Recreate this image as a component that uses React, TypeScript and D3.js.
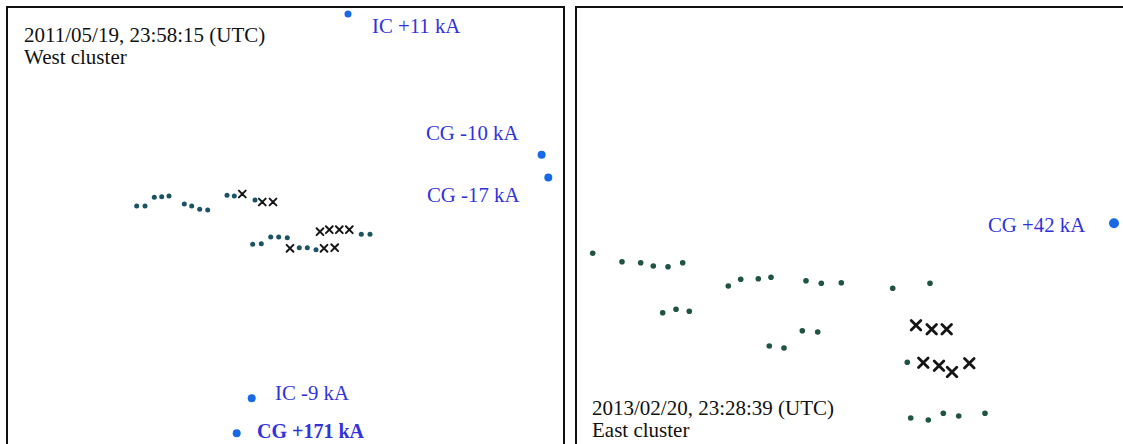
import * as d3 from 'd3';

// panel-relative positions (px in the original figure), y measured from panel top
type Pt = [number, number];
type Stroke = { label: string, dot: Pt, text: Pt, r: number, bold?: boolean };

const westSources: Pt[] = [
    [129.7, 199], [138, 199], [147.3, 190.3], [154.7, 189.7], [162, 189],
    [177.3, 197], [184.7, 199], [192.7, 202.3], [200.7, 203],
    [220, 188.3], [227.3, 189], [248, 193],
    [245.7, 237.3], [254.3, 236.7], [263.7, 230], [271.7, 230], [280.3, 230.7],
    [292.3, 240.7], [300.3, 240.7], [309, 242.7],
    [354.3, 227.3], [363, 227.3]
];
const westCrosses: Pt[] = [
    [235.3, 187], [255.3, 195], [266, 195],
    [283, 241.3], [317, 241.3], [327.7, 240.7],
    [313, 224.7], [322.3, 222.7], [332.3, 222.7], [342.3, 222.7]
];
const westStrokes: Stroke[] = [
    { label: 'IC +11 kA', dot: [341, 7], text: [365, 26], r: 3.5 },
    { label: 'CG -10 kA', dot: [534.6, 147.8], text: [419, 133], r: 4 },
    { label: 'CG -17 kA', dot: [541.3, 170.4], text: [420, 194.5], r: 4 },
    { label: 'IC -9 kA', dot: [244.7, 391.3], text: [268, 393], r: 4 },
    { label: 'CG +171 kA', dot: [229.7, 426.3], text: [250, 431], r: 4, bold: true }
];
const westTitle = ['2011/05/19, 23:58:15 (UTC)', 'West cluster'];

const eastSources: Pt[] = [
    [16.7, 246.3], [46, 254.7], [64.7, 255.7], [77.3, 259], [92, 259.7], [106.7, 255.7],
    [86.7, 305.7], [100, 302.3], [113.3, 304.3],
    [152.3, 279], [164.7, 272.3], [182.3, 271.7], [195, 270.3],
    [230, 273.7], [245.3, 276.3], [265.3, 275.7],
    [226.3, 323.7], [241.7, 325], [193.3, 339], [208, 341],
    [316.7, 281.3], [354, 276.3], [331.3, 355.3],
    [334.7, 411], [352.3, 413], [367.3, 406.3], [382.7, 409], [409, 406.3]
];
const eastCrosses: Pt[] = [
    [340, 318.3], [355.7, 322.3], [370.7, 322.3],
    [347.3, 355.7], [363, 358.7], [376, 365], [393.3, 356.3]
];
const eastStrokes: Stroke[] = [
    { label: 'CG +42 kA', dot: [538, 216.3], text: [412, 225], r: 5 }
];
const eastTitle = ['2013/02/20, 23:28:39 (UTC)', 'East cluster'];

const FONT = '"Liberation Serif", "Times New Roman", serif';

function Panel(props: {
    x0: number, y0: number, w: number, h: number,
    sources: Pt[], crosses: Pt[], strokes: Stroke[], title: string[],
    titleAt: Pt, dotR: number, dotColor: string, crossR: number, crossW: number
}) {
    const x = d3.scaleLinear().domain([0, props.w]).range([props.x0, props.x0 + props.w]);
    const y = d3.scaleLinear().domain([0, props.h]).range([props.y0, props.y0 + props.h]);
    const c = props.crossR;
    return (
        <g>
            <rect x={props.x0} y={props.y0} width={props.w} height={props.h}
                fill="#fff" stroke="#111" strokeWidth={2} />
            {props.title.map((t, i) => (
                <text key={t} x={x(props.titleAt[0])} y={y(props.titleAt[1] + i * 22)}
                    fontFamily={FONT} fontSize={21} fill="#111">{t}</text>
            ))}
            {props.sources.map((d, i) => (
                <circle key={'s' + i} cx={x(d[0])} cy={y(d[1])} r={props.dotR} fill={props.dotColor} />
            ))}
            {props.crosses.map((d, i) => (
                <path key={'x' + i}
                    d={`M${x(d[0]) - c},${y(d[1]) - c}L${x(d[0]) + c},${y(d[1]) + c}M${x(d[0]) - c},${y(d[1]) + c}L${x(d[0]) + c},${y(d[1]) - c}`}
                    stroke="#151515" strokeWidth={props.crossW} strokeLinecap="round" fill="none" />
            ))}
            {props.strokes.map(s => (
                <g key={s.label}>
                    <circle cx={x(s.dot[0])} cy={y(s.dot[1])} r={s.r} fill="#1769e6" />
                    <text x={x(s.text[0])} y={y(s.text[1])} fontFamily={FONT}
                        fontSize={s.bold ? 20 : 20.8}
                        fontWeight={s.bold ? 'bold' : 'normal'} fill="#3232dc">{s.label}</text>
                </g>
            ))}
        </g>
    );
}

export default function App() {
    return (
        <svg width={1123} height={444} style={{ position: 'absolute', left: 0, top: 0, display: 'block' }}>
            <rect width={1123} height={444} fill="#fff" />
            <Panel x0={7} y0={7} w={557} h={460}
                sources={westSources} crosses={westCrosses} strokes={westStrokes} title={westTitle}
                titleAt={[17, 35]} dotR={2.5} dotColor="#1a5464" crossR={3.4} crossW={2} />
            <Panel x0={576} y0={7} w={560} h={460}
                sources={eastSources} crosses={eastCrosses} strokes={eastStrokes} title={eastTitle}
                titleAt={[16, 408]} dotR={2.8} dotColor="#1f5345" crossR={4.8} crossW={2.8} />
        </svg>
    );
}
